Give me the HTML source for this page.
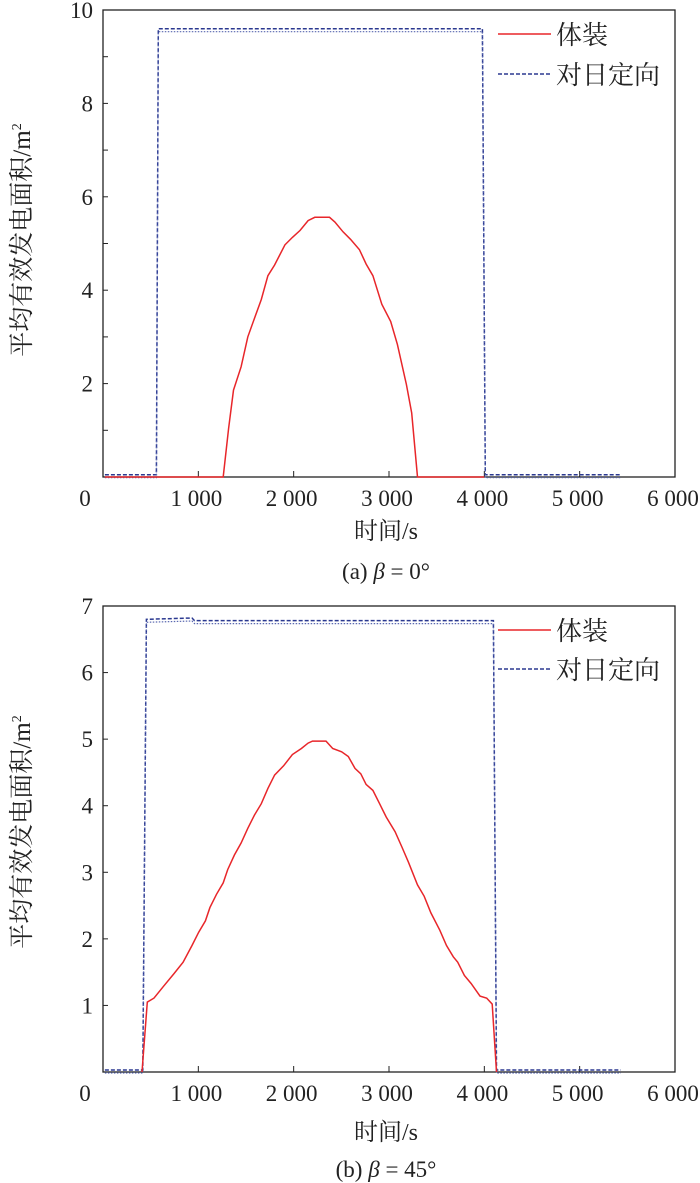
<!DOCTYPE html>
<html><head><meta charset="utf-8"><style>
body{margin:0;background:#fff}
svg{display:block}
text{font-family:"Liberation Serif","Noto Serif CJK SC","Noto Sans CJK SC",serif;fill:#222}
</style></head><body>
<svg id="chart" width="700" height="1183" viewBox="0 0 700 1183" xmlns="http://www.w3.org/2000/svg"></svg>
<script>
// ---- data ----
const xTicks = [1000, 2000, 3000, 4000, 5000, 6000];
const xTickLabels = ["1 000", "2 000", "3 000", "4 000", "5 000", "6 000"];
const aYTicks = [2, 4, 6, 8, 10];
const bYTicks = [1, 2, 3, 4, 5, 6, 7];
const aBodyT = [20, 600, 1261, 1318, 1369, 1449, 1519, 1589, 1660, 1730, 1800, 1908, 1987, 2067, 2151, 2222, 2376, 2432, 2517, 2596, 2690, 2760, 2831, 2924, 3018, 3088, 3182, 3238, 3299, 4000];
const aBodyV = [0, 0, 0, 1.04, 1.86, 2.36, 3.0, 3.4, 3.8, 4.31, 4.54, 4.97, 5.13, 5.28, 5.49, 5.56, 5.56, 5.46, 5.25, 5.09, 4.87, 4.56, 4.31, 3.7, 3.33, 2.84, 1.98, 1.37, 0, 0];
const aSunT = [20, 560, 580, 3980, 4010, 5430];
const aSunV = [0.05, 0.05, 9.6, 9.6, 0.05, 0.05];
const bBodyT = [409, 465, 535, 630, 746, 840, 934, 1004, 1074, 1121, 1191, 1261, 1308, 1378, 1449, 1519, 1589, 1660, 1730, 1800, 1894, 1987, 2081, 2151, 2198, 2339, 2409, 2503, 2573, 2643, 2704, 2760, 2831, 2901, 2971, 3064, 3135, 3205, 3299, 3369, 3440, 3533, 3603, 3674, 3721, 3791, 3861, 3955, 4025, 4082, 4128];
const bBodyV = [0, 1.05, 1.11, 1.28, 1.48, 1.65, 1.9, 2.1, 2.27, 2.47, 2.67, 2.84, 3.04, 3.26, 3.44, 3.66, 3.86, 4.03, 4.26, 4.46, 4.6, 4.77, 4.86, 4.94, 4.97, 4.97, 4.86, 4.81, 4.74, 4.56, 4.48, 4.32, 4.23, 4.03, 3.83, 3.61, 3.38, 3.15, 2.81, 2.64, 2.39, 2.13, 1.9, 1.73, 1.65, 1.45, 1.33, 1.14, 1.11, 1.02, 0];
const bSunT = [20, 418, 455, 934, 960, 4095, 4128, 5430];
const bSunV = [0.03, 0.03, 6.8, 6.82, 6.78, 6.78, 0.03, 0.03];
const legendLabels = ["体装", "对日定向"];

const NS = "http://www.w3.org/2000/svg";
const svg = document.getElementById('chart');
function mk(tag, attrs, parent, txt) {
  const e = document.createElementNS(NS, tag);
  for (const k in attrs) e.setAttribute(k, attrs[k]);
  if (txt !== undefined) e.textContent = txt;
  (parent || svg).appendChild(e);
  return e;
}

function panel(id, top, bottom, yMax, yTicks, minorStep, bodyT, bodyV, sunT, sunV, legY1, legY2, titleY, captionY, caption, yLabelCenter) {
  const L = 103, R = 675;
  const g = mk('g', {});
  
  
  const xs = t => L + (R - L) * t / 6000;
  const ys = v => bottom - (bottom - top) * v / yMax;
  const fr = mk('rect', {x: L, y: top, width: R - L, height: bottom - top, fill: 'none', stroke: '#222', 'stroke-width': 1.3}, g);
  
  
  xTicks.forEach((t, i) => {
    const tk = mk('line', {x1: xs(t), x2: xs(t), y1: bottom, y2: bottom - 6, stroke: '#222', 'stroke-width': 1}, g);
    
    
    const lb = mk('text', {x: xs(t) - 2, y: bottom + 29, 'text-anchor': 'middle', 'font-size': 23}, g, xTickLabels[i]);
    
    
  });
  const z = mk('text', {x: 85, y: bottom + 29, 'text-anchor': 'middle', 'font-size': 23}, g, '0');
  
  
  for (let v = minorStep; v < yMax; v += minorStep) {
    const tk = mk('line', {x1: L, x2: L + 5, y1: ys(v), y2: ys(v), stroke: '#222', 'stroke-width': 1}, g);
    
    
  }
  yTicks.forEach(v => {
    const lb = mk('text', {x: 93, y: ys(v) + 8, 'text-anchor': 'end', 'font-size': 23}, g, String(v));
    
    
  });
  const sp = sunT.map((t, i) => xs(t).toFixed(1) + ',' + ys(sunV[i]).toFixed(1)).join(' ');
  const s1 = mk('polyline', {points: sp, fill: 'none', stroke: '#2b3990', 'stroke-width': 1.5, 'stroke-dasharray': '4 2'}, g);
  
  
  const sp2 = sunT.map((t, i) => xs(t).toFixed(1) + ',' + (ys(sunV[i]) + 3).toFixed(1)).join(' ');
  const s2 = mk('polyline', {points: sp2, fill: 'none', stroke: '#5a68b0', 'stroke-width': 1.2, 'stroke-dasharray': '1.5 1.5'}, g);
  
  
  const bp = bodyT.map((t, i) => xs(t).toFixed(1) + ',' + ys(bodyV[i]).toFixed(1)).join(' ');
  const b = mk('polyline', {points: bp, fill: 'none', stroke: '#e8262a', 'stroke-width': 1.5}, g);
  
  
  const l1 = mk('line', {x1: 498, x2: 551, y1: legY1, y2: legY1, stroke: '#e8262a', 'stroke-width': 1.5}, g);
  
  
  const t1 = mk('text', {x: 556, y: legY1 + 10, 'font-size': 26}, g, legendLabels[0]);
  
  
  const l2 = mk('line', {x1: 498, x2: 551, y1: legY2, y2: legY2, stroke: '#2b3990', 'stroke-width': 1.6, 'stroke-dasharray': '4 2'}, g);
  
  
  const t2 = mk('text', {x: 556, y: legY2 + 10, 'font-size': 26}, g, legendLabels[1]);
  
  
  const xt = mk('text', {x: 386, y: titleY, 'text-anchor': 'middle', 'font-size': 24}, g, '时间/s');
  
  
  const yt = mk('text', {x: 0, y: 0, 'text-anchor': 'middle', 'font-size': 25, transform: 'translate(30,' + yLabelCenter + ') rotate(-90)'}, g);
  
  
  yt.appendChild(document.createTextNode('平均有效发电面积/m'));
  mk('tspan', {'font-size': 14, dy: -9}, yt, '2');
  const cp = mk('text', {x: 386, y: captionY, 'text-anchor': 'middle', 'font-size': 23}, g);
  
  
  cp.appendChild(document.createTextNode(caption[0]));
  mk('tspan', {'font-style': 'italic'}, cp, 'β');
  cp.appendChild(document.createTextNode(caption[1]));
}

panel('a', 10, 477, 10, aYTicks, 1, aBodyT, aBodyV, aSunT, aSunV, 34, 74, 539, 579, ['(a) ', ' = 0°'], 240);
panel('b', 606, 1072, 7, bYTicks, 1, bBodyT, bBodyV, bSunT, bSunV, 630, 669, 1140, 1177, ['(b) ', ' = 45°'], 832);
</script>
</body></html>
